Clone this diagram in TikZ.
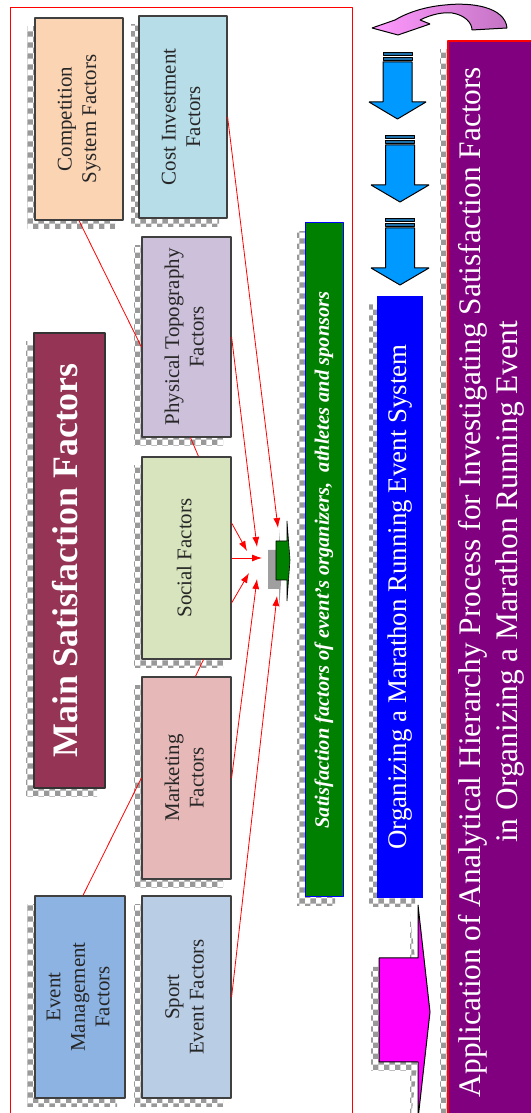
\documentclass[tikz,border=0pt]{standalone}
\usepackage{fontspec}
\setmainfont{Liberation Serif}
\usepackage{graphicx}
\usetikzlibrary{arrows.meta,patterns,shadows}
\definecolor{compcolor}{HTML}{FBD4B4}
\definecolor{costcolor}{HTML}{B7DDE8}
\definecolor{topocolor}{HTML}{CCC0DA}
\definecolor{socialcolor}{HTML}{D7E4BD}
\definecolor{marketcolor}{HTML}{E6B9B8}
\definecolor{eventcolor}{HTML}{8DB3E2}
\definecolor{sportcolor}{HTML}{B9CDE5}
\definecolor{maincolor}{HTML}{953455}
\definecolor{goalgreen}{HTML}{008000}
\definecolor{apppurple}{HTML}{800080}
\definecolor{flowblue}{HTML}{0099FF}
\definecolor{stripeblue}{HTML}{1F6FA8}
\definecolor{curvepinkA}{HTML}{FF99FF}
\definecolor{curvepinkB}{HTML}{C474C4}
\definecolor{pushmagenta}{HTML}{FF00FF}
\newcommand{\vlabel}[1]{\rotatebox{90}{\begin{tabular}{@{}c@{}}#1\end{tabular}}}
\tikzset{
  checker/.style={general shadow={pattern=checkerboard,pattern color=gray!80,shadow xshift=-8bp,shadow yshift=-9bp}},
  factor/.style={draw=black!75,line width=1.2bp,inner sep=0pt,minimum width=89bp,minimum height=202bp,text=black!85,font=\fontsize{21}{24.5}\selectfont,checker},
  bar/.style={inner sep=0pt,text=white,checker},
  link/.style={red,line width=0.8bp},
  flowarrow/.style={draw=black,line width=1bp,fill=flowblue},
  flowstripe/.style={draw=black,line width=0.7bp,fill=stripeblue},
}
\begin{document}
\begin{tikzpicture}[>={Latex[length=10bp,width=7bp]},line join=bevel,]
\useasboundingbox (0bp,0bp) rectangle (531bp,1113bp);
%%
\draw [red,line width=1bp] (10bp,-5bp) rectangle (352bp,1105bp);
%
\node (node_comp) at (79bp,994bp) [factor,fill=compcolor,minimum width=88bp] {\vlabel{Competition\\System Factors}};
  \node (node_cost) at (183bp,996bp) [factor,fill=costcolor,minimum width=88bp] {\vlabel{Cost Investment\\Factors}};
  \node (node_topo) at (186.5bp,776bp) [factor,fill=topocolor,minimum height=200bp] {\vlabel{Physical Topography\\Factors}};
  \node (node_social) at (186.5bp,555bp) [factor,fill=socialcolor] {\vlabel{Social Factors}};
  \node (node_market) at (186.5bp,335bp) [factor,fill=marketcolor] {\vlabel{Marketing\\Factors}};
  \node (node_event) at (80bp,116bp) [factor,fill=eventcolor,minimum width=90bp] {\vlabel{Event\\Management\\Factors}};
  \node (node_sport) at (186.5bp,116bp) [factor,fill=sportcolor] {\vlabel{Sport\\Event Factors}};
  \node (node_main) at (69.5bp,552.5bp) [bar,draw=black!80,line width=1.5bp,fill=maincolor,minimum width=71bp,minimum height=455bp,font=\bfseries\fontsize{36}{40}\selectfont] {\vlabel{Main Satisfaction Factors}};
  \node (node_goal) at (324bp,553bp) [bar,draw=blue,line width=1bp,fill=goalgreen,minimum width=38bp,minimum height=674bp,font=\bfseries\itshape\fontsize{20.5}{24}\selectfont] {\vlabel{Satisfaction factors of event's organizers,\ \ athletes and sponsors}};
  \node (node_system) at (400bp,516bp) [bar,fill=blue,minimum width=46bp,minimum height=602bp,font=\fontsize{27}{32}\selectfont] {\vlabel{Organizing a Marathon Running Event System}};
  \node (node_app) at (491.5bp,531bp) [bar,draw=red,line width=1.5bp,fill=apppurple,minimum width=87bp,minimum height=1082bp,font=\fontsize{31.5}{37}\selectfont] {\vlabel{Application of Analytical Hierarchy Process for Investigating Satisfaction Factors\\in Organizing a Marathon Running Event}};
%
\draw [link] (node_comp.south) -- ([yshift=-10bp]node_topo.west);
  \draw [link] ([xshift=4bp]node_topo.south) -- ([xshift=12bp]node_social.north);
  \draw [link] ([xshift=17bp]node_social.south) -- ([xshift=9bp]node_market.north);
  \draw [link] (node_market.west) -- ([xshift=3bp]node_event.north);
%
\draw [draw=black,line width=0.6bp,fill=goalgreen,general shadow={fill=gray!75,shadow xshift=-8bp,shadow yshift=-9bp}] (276bp,572bp) -- (287bp,572bp) -- (287bp,592bp) -- (290bp,553bp) -- (287bp,512bp) -- (287bp,533bp) -- (276bp,533bp) -- cycle;
  \coordinate (in_cost) at (278bp,585bp);
  \coordinate (in_topo) at (257bp,566bp);
  \coordinate (in_social_a) at (247bp,562bp);
  \coordinate (in_social_b) at (262bp,555bp);
  \coordinate (in_social_c) at (249bp,540bp);
  \coordinate (in_market) at (257bp,534bp);
  \coordinate (in_sport) at (277bp,517bp);
  \draw [link,->] (node_cost.east) -- (in_cost);
  \draw [link,->] (node_topo.east) -- (in_topo);
  \draw [link,->] ([yshift=35bp]node_social.east) -- (in_social_a);
  \draw [link,->] (node_social.east) -- (in_social_b);
  \draw [link,->] ([yshift=-45bp]node_social.east) -- (in_social_c);
  \draw [link,->] (node_market.east) -- (in_market);
  \draw [link,->] (node_sport.east) -- (in_sport);
%
\foreach \ax/\ay/\hw in {397.5bp/1061bp/28.5bp,400bp/978bp/29bp,400bp/895bp/29bp}{
  \begin{scope}[shift={(\ax,\ay)}]
    \draw [flowstripe] (-14.5bp,0bp) rectangle (14.5bp,-3.5bp);
    \draw [flowstripe] (-14.5bp,-5bp) rectangle (14.5bp,-8.5bp);
    \draw [flowarrow] (-14.5bp,-10bp) -- (14.5bp,-10bp) -- (14.5bp,-50bp) -- (\hw,-50bp) -- (0bp,-67bp) -- (-\hw,-50bp) -- (-14.5bp,-50bp) -- cycle;
  \end{scope}}
%
\draw [draw=black,line width=1bp,left color=curvepinkA,right color=curvepinkB] (507bp,1085bp) .. controls (505bp,1106bp) and (472bp,1111bp) .. (445bp,1108bp) .. controls (422bp,1106bp) and (405bp,1099bp) .. (395bp,1093bp) -- (372bp,1085bp) -- (398bp,1078bp) -- (430bp,1089bp) -- (420bp,1093bp) .. controls (432bp,1099bp) and (444bp,1101bp) .. (452bp,1100bp) .. controls (465bp,1098bp) and (472bp,1090bp) .. (472bp,1083bp) -- cycle;
%
\draw [draw=black,line width=1bp,fill=pushmagenta,checker] (379bp,155bp) -- (418bp,155bp) -- (418bp,208bp) -- (430bp,101bp) -- (418bp,-6bp) -- (418bp,51bp) -- (379bp,51bp) -- cycle;
%
\end{tikzpicture}
\end{document}
